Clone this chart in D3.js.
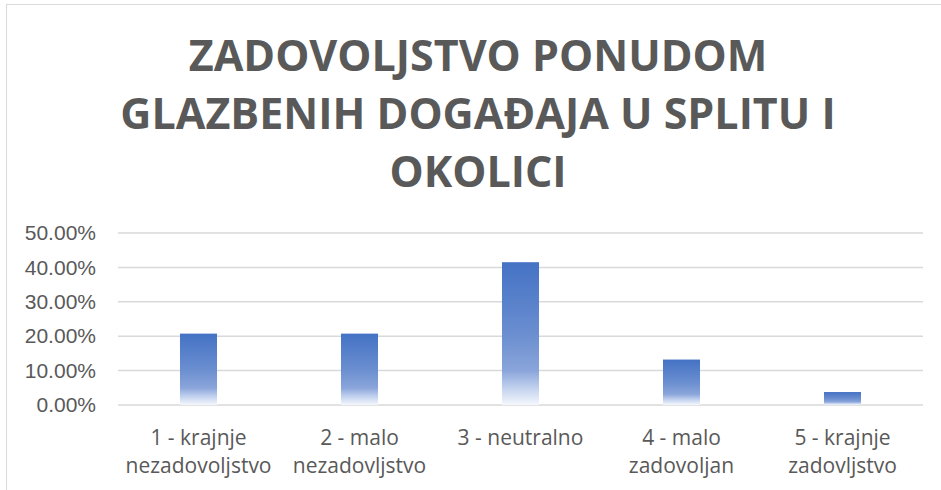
<!DOCTYPE html>
<html lang="hr">
<head>
    <meta charset="UTF-8">
    <title>Zadovoljstvo ponudom glazbenih događaja u Splitu i okolici</title>
    <script src="https://d3js.org/d3.v7.min.js"></script>
    <style>
        body { margin: 0; background: #fff; }
        svg { display: block; font-family: "Open Sans", Arial, sans-serif; }
        .tick text { fill: #595959; }
    </style>
</head>
<body>
    <div id="chart"></div>

    <script>
        // podaci
        const categories = [
            ["1 - krajnje", "nezadovoljstvo"],
            ["2 - malo", "nezadovljstvo"],
            ["3 - neutralno"],
            ["4 - malo", "zadovoljan"],
            ["5 - krajnje", "zadovljstvo"]
        ];
        const values = [0.2075, 0.2075, 0.4151, 0.1321, 0.0377];
        const yTicks = [0, 0.1, 0.2, 0.3, 0.4, 0.5];
        const titleLines = ["ZADOVOLJSTVO PONUDOM", "GLAZBENIH DOGAĐAJA U SPLITU I", "OKOLICI"];

        const width = 941;
        const height = 490;
        const margin = { top: 233, right: 18, bottom: 85, left: 118 };
        const innerW = width - margin.left - margin.right;
        const innerH = height - margin.top - margin.bottom;

        const svg = d3.select("#chart")
            .append("svg")
            .attr("width", width)
            .attr("height", height);

        // okvir grafikona
        svg.append("rect")
            .attr("x", 6.5).attr("y", 4.5)
            .attr("width", 960).attr("height", 520)
            .attr("fill", "#fff")
            .attr("stroke", "#d9d9d9");

        // gradijent za stupce
        const grad = svg.append("defs").append("linearGradient")
            .attr("id", "barGrad")
            .attr("x1", 0).attr("y1", 0).attr("x2", 0).attr("y2", 1);
        [[0, "#4472c4"], [0.5, "#6a8ed0"], [0.76, "#8aa5da"], [0.86, "#b8caeb"], [1, "#f5f8fd"]]
            .forEach(([o, c]) => grad.append("stop").attr("offset", o).attr("stop-color", c));

        // naslov
        svg.append("g").selectAll("text")
            .data(titleLines)
            .enter()
            .append("text")
            .attr("x", 478)
            .attr("y", (d, i) => 71 + i * 58)
            .attr("text-anchor", "middle")
            .attr("fill", "#595959")
            .style("font-size", "43px")
            .style("font-weight", "bold")
            .text(d => d);

        const x = d3.scaleBand()
            .domain(d3.range(categories.length))
            .range([0, innerW])
            .paddingInner(0.77)
            .paddingOuter(0.385);

        const y = d3.scaleLinear()
            .domain([0, 0.5])
            .range([innerH, 0]);

        const g = svg.append("g")
            .attr("transform", `translate(${margin.left},${margin.top})`);

        // mreža i os Y
        const yAxis = g.append("g")
            .call(d3.axisLeft(y).tickValues(yTicks).tickSize(0).tickPadding(0)
                .tickFormat(d => (d * 100).toFixed(2) + "%"));
        yAxis.select(".domain").remove();
        yAxis.selectAll(".tick text")
            .attr("x", -22)
            .style("font-size", "21px");

        g.append("g").selectAll("line")
            .data(yTicks)
            .enter()
            .append("line")
            .attr("x1", 0).attr("x2", innerW)
            .attr("y1", d => y(d)).attr("y2", d => y(d))
            .attr("stroke", "#d9d9d9")
            .attr("stroke-width", 1.5);

        // stupci
        g.selectAll(".bar")
            .data(values)
            .enter()
            .append("rect")
            .attr("class", "bar")
            .attr("x", (d, i) => x(i))
            .attr("y", d => y(d))
            .attr("width", x.bandwidth())
            .attr("height", d => innerH - y(d))
            .attr("fill", "url(#barGrad)");

        // kategorije (os X)
        const labels = g.append("g").selectAll("text")
            .data(categories)
            .enter()
            .append("text")
            .attr("text-anchor", "middle")
            .attr("fill", "#595959")
            .style("font-size", "21px")
            .attr("transform", (d, i) => `translate(${x(i) + x.bandwidth() / 2},${innerH + 40})`);
        labels.selectAll("tspan")
            .data(d => d)
            .enter()
            .append("tspan")
            .attr("x", 0)
            .attr("y", (d, i) => i * 28)
            .text(d => d);
    </script>
</body>
</html>
